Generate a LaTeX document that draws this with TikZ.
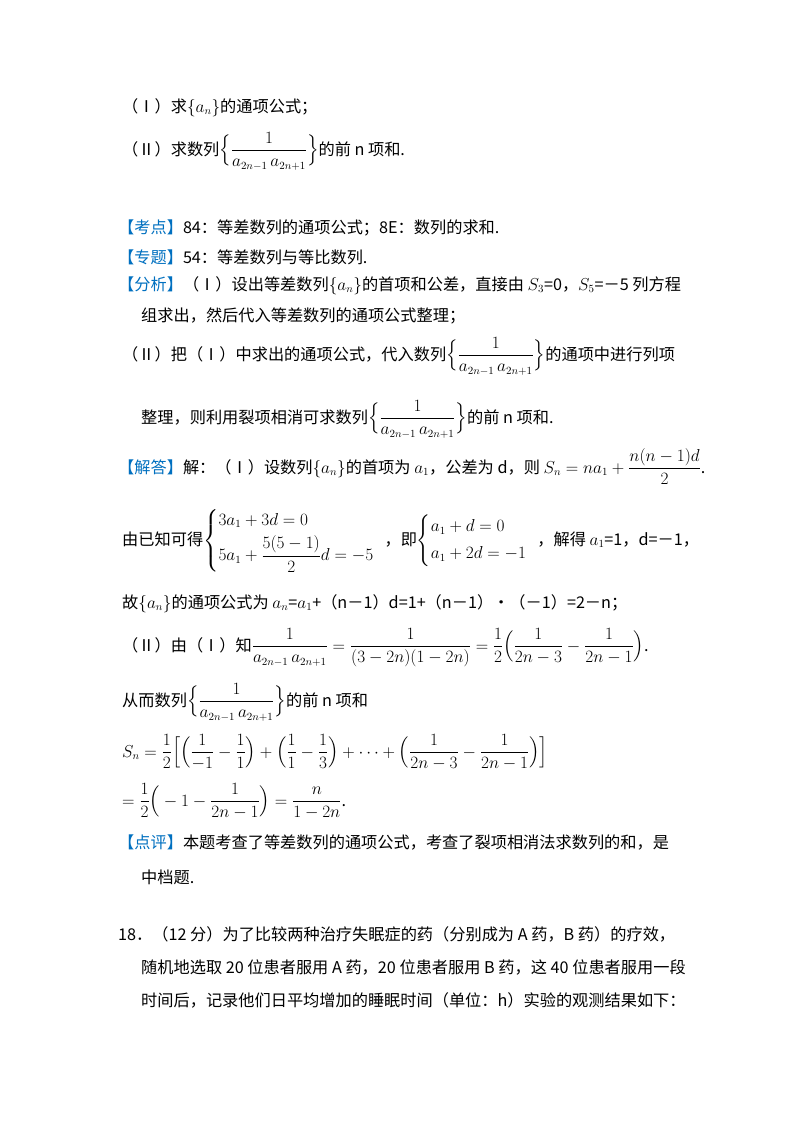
\documentclass[tikz,border=0pt]{standalone}
\usepackage{amsmath}
\usepackage{fontspec}
\setmainfont{Noto Sans CJK SC}
\definecolor{tagblue}{RGB}{0,112,192}
\newcommand{\tg}[1]{\textcolor{tagblue}{【#1】}}
\newcommand{\aseq}{$\{a_n\}$}
\newcommand{\recip}{$\Big\{\dfrac{1}{a_{2n-1}\,a_{2n+1}}\Big\}$}
\begin{document}
\begin{tikzpicture}[x=1pt,y=-1pt,
  tx/.style={anchor=base west,inner sep=0pt,font=\fontsize{16.2}{19}\selectfont}]
\useasboundingbox[fill=white] (0,0) rectangle (800,1132);
\node[tx] (l1) at (122,112) {（Ⅰ）求\aseq 的通项公式；};
\node[tx] (l2) at (122,155) {（Ⅱ）求数列\recip 的前 n 项和.};
\node[tx] (l3) at (118,233) {\tg{考点}84：等差数列的通项公式；8E：数列的求和.};
\node[tx] (l4) at (118,263) {\tg{专题}54：等差数列与等比数列.};
\node[tx] (l5) at (118,290) {\tg{分析}（Ⅰ）设出等差数列\aseq 的首项和公差，直接由 $S_3$=0，$S_5$=－5 列方程};
\node[tx] (l6) at (141,321) {组求出，然后代入等差数列的通项公式整理；};
\node[tx] (l7) at (122,360) {（Ⅱ）把（Ⅰ）中求出的通项公式，代入数列\recip 的通项中进行列项};
\node[tx] (l8) at (141,423) {整理，则利用裂项相消可求数列\recip 的前 n 项和.};
\node[tx] (l9) at (118,473) {\tg{解答}解：（Ⅰ）设数列\aseq 的首项为 $a_1$，公差为 d，则 $S_n=na_1+\dfrac{n(n-1)d}{2}$.};
\node[tx] (l10) at (122,545) {由已知可得$\begin{cases}3a_1+3d=0\\[4pt] 5a_1+\dfrac{5(5-1)}{2}d=-5\end{cases}$\hspace{-6pt}，即$\begin{cases}a_1+d=0\\[4pt] a_1+2d=-1\end{cases}$\hspace{-6pt}，解得 $a_1$=1，d=－1，};
\node[tx] (l11) at (122,608) {故\aseq 的通项公式为 $a_n$=$a_1$+（n－1）d=1+（n－1）•（－1）=2－n；};
\node[tx] (l12) at (122,651) {（Ⅱ）由（Ⅰ）知$\dfrac{1}{a_{2n-1}\,a_{2n+1}}=\dfrac{1}{(3-2n)(1-2n)}=\dfrac{1}{2}\Big(\dfrac{1}{2n-3}-\dfrac{1}{2n-1}\Big)$.};
\node[tx] (l13) at (122,706) {从而数列\recip 的前 n 项和};
\node[tx] (l14) at (122,757) {$S_n=\dfrac{1}{2}\Big[\Big(\dfrac{1}{-1}-\dfrac{1}{1}\Big)+\Big(\dfrac{1}{1}-\dfrac{1}{3}\Big)+\cdots+\Big(\dfrac{1}{2n-3}-\dfrac{1}{2n-1}\Big)\Big]$};
\node[tx] (l15) at (122,806) {$=\dfrac{1}{2}\Big(-1-\dfrac{1}{2n-1}\Big)=\dfrac{n}{1-2n}$.};
\node[tx] (l16) at (118,848) {\tg{点评}本题考查了等差数列的通项公式，考查了裂项相消法求数列的和，是};
\node[tx] (l17) at (141,883) {中档题.};
\node[tx] (l18) at (118,940) {18．（12 分）为了比较两种治疗失眠症的药（分别成为 A 药，B 药）的疗效，};
\node[tx] (l19) at (141,973) {随机地选取 20 位患者服用 A 药，20 位患者服用 B 药，这 40 位患者服用一段};
\node[tx] (l20) at (141,1006) {时间后，记录他们日平均增加的睡眠时间（单位：h）实验的观测结果如下：};
\end{tikzpicture}
\end{document}
